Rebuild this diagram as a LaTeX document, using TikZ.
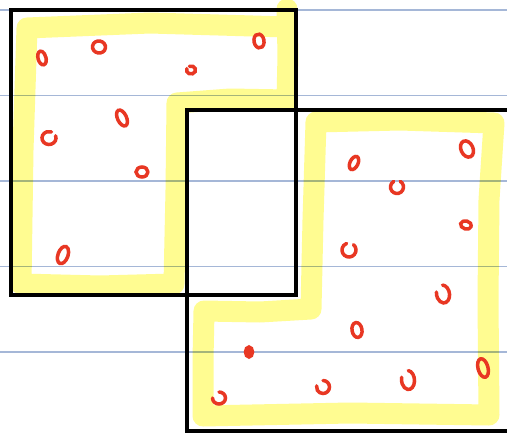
\documentclass[tikz,border=0pt]{standalone}
\definecolor{hl}{RGB}{255,252,145}
\definecolor{rl}{RGB}{232,55,35}
\definecolor{nb}{RGB}{165,183,215}
\newcommand\rmark[7]{\draw[redo, shift={(#1,#2)}, rotate=#5] (#6:#3 and #4) arc[start angle=#6, end angle=#7, x radius=#3, y radius=#4];}
\begin{document}
\begin{tikzpicture}[x=1pt,y=-1pt,
  ruled/.style={nb, line width=1.2pt},
  box/.style={black, line width=4.5pt},
  hlpen/.style={hl, line width=21pt, line join=round, line cap=round},
  redo/.style={rl, line width=3.5pt, line cap=round}]
\useasboundingbox (0,0) rectangle (507,434);
\clip (0,0) rectangle (507,434);
\fill[white] (0,0) rectangle (507,434);
\foreach \y in {10,95.5,181,266.5,352} \draw[ruled] (0,\y) -- (507,\y);
\draw[box] (11,10) rectangle (296,295);
\draw[box] (187,110) rectangle (540,431);
\begin{scope}[blend mode=multiply]
\draw[hlpen] (287,9) -- (288,55) -- (287,100) -- (230,99) -- (177,103) -- (176,190) -- (174,284) -- (100,286) -- (21,284) -- (23,150) -- (27,28) -- (150,23) -- (287,27);
\draw[hlpen] (316,122) -- (400,120) -- (494,123) -- (489,200) -- (488,300) -- (489,415) -- (350,413) -- (203,416) -- (203,360) -- (204,311) -- (260,312) -- (311,309) -- (313,220) -- cycle;
\end{scope}
\rmark{42}{58}{4}{7}{15}{0}{370}
\rmark{99}{47}{6.5}{6}{-10}{0}{360}
\rmark{259}{41}{5}{7}{10}{200}{560}
\rmark{191}{70}{4.5}{4}{0}{250}{560}
\rmark{122}{118}{4.5}{8.5}{25}{0}{360}
\rmark{49}{138}{7}{6.5}{0}{-20}{290}
\rmark{142}{172}{6}{5}{0}{0}{360}
\rmark{63}{255}{5}{9}{-20}{0}{380}
\rmark{354}{163}{4}{7}{-25}{0}{360}
\rmark{397}{187}{6.5}{6.5}{0}{-60}{240}
\rmark{467}{149}{6}{8.5}{25}{0}{360}
\rmark{466}{225}{5.5}{4}{-15}{0}{360}
\rmark{349}{250}{7}{7}{0}{-50}{250}
\rmark{443}{294}{6.5}{9}{10}{-80}{200}
\rmark{357}{330}{5}{7.5}{10}{0}{360}
\draw[redo, fill=rl] (249,352) ellipse [x radius=3.5, y radius=5];
\rmark{219}{398}{6.5}{6}{0}{-90}{180}
\rmark{323}{387}{6.5}{6.5}{0}{-90}{190}
\rmark{408}{380}{6.5}{9.5}{5}{-80}{200}
\rmark{483}{368}{5}{9.5}{15}{0}{360}
\end{tikzpicture}
\end{document}
